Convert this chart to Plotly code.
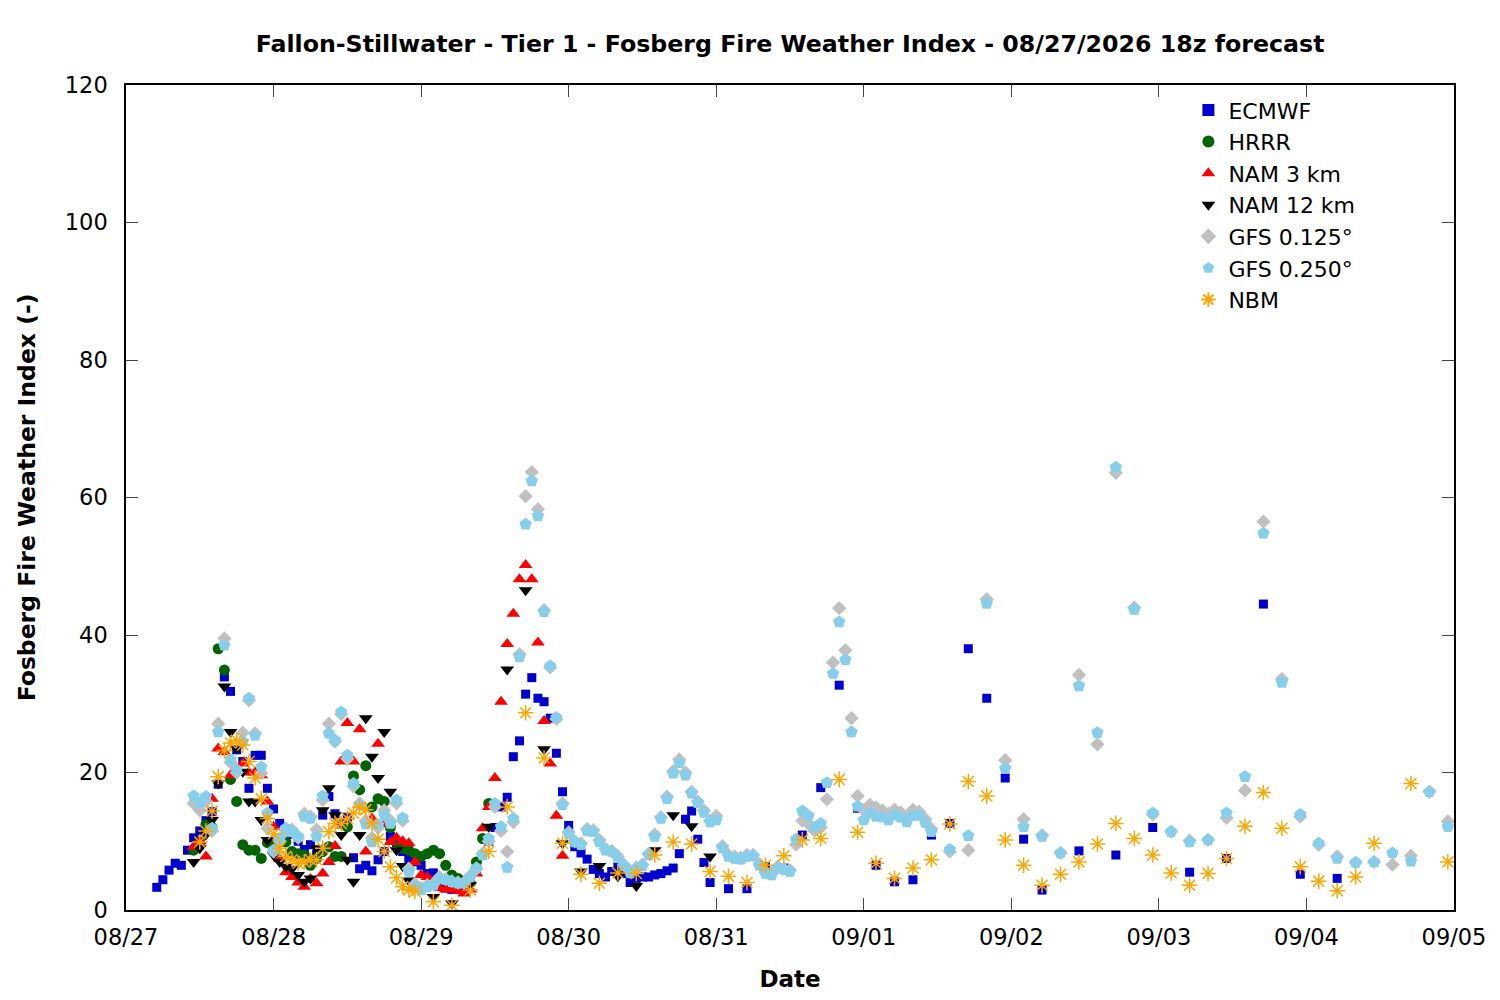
import pandas as pd
import plotly.graph_objects as go

# hours since 08/27 00:00 and Fosberg index values
ecmwf_hours = list(range(5, 96)) + [98, 101, 104, 107, 110, 113, 116, 119, 122, 125, 128, 131, 134, 137, 140, 143, 146, 149, 155, 161, 167, 173, 179, 185, 191, 197]
ecmwf_values = [3.3, 4.4, 5.8, 6.8, 6.5, 8.7, 10.5, 11.5, 13.0, 14.3, 18.3, 33.9, 31.8, 23.3, 21.6, 17.7, 22.5, 22.5, 17.7, 14.7,
                12.6, 11.8, 11.0, 10.0, 8.8, 9.5, 8.1, 13.8, 16.5, 14.0, 12.5, 13.5, 7.6, 6.0, 6.5, 5.7, 7.3, 8.5, 10.7, 9.8,
                8.5, 7.5, 7.0, 6.5, 5.3, 5.4, 3.5, 3.2, 3.0, 3.0, 3.5, 4.5, 5.8, 8.0, 10.0, 12.0, 15.0, 16.4, 22.3, 24.6,
                31.4, 33.8, 30.8, 30.3, 27.9, 22.8, 17.2, 12.3, 9.2, 8.3, 7.4, 5.9, 5.3, 4.8, 5.6, 6.3, 5.3, 4.0, 4.6, 4.8,
                4.8, 5.1, 5.3, 5.7, 6.1, 8.2, 13.2, 14.4, 10.3, 6.9, 4.0,
                3.1, 3.1, 6.3, 6.1, 10.9, 17.8, 32.7, 14.8, 6.5, 4.1, 4.4, 10.9, 12.6, 38.0, 30.8, 19.2, 10.3, 2.9,
                8.6, 8.0, 12.0, 5.5, 7.5, 44.5, 5.2, 4.6]

hrrr_hours = list(range(11, 60))
hrrr_values = [8.7, 9.9, 12.4, 12.0, 38.0, 34.9, 19.0, 15.8, 9.5, 8.7, 8.7, 7.5, 9.8, 9.5, 9.9, 9.9, 8.5, 8.2, 8.0, 6.5,
               7.5, 8.5, 9.2, 7.8, 7.8, 12.1, 19.5, 17.5, 21.0, 15.0, 16.2, 15.8, 12.0, 9.9, 9.0, 8.7, 8.2, 7.8, 8.2, 8.7,
               8.2, 6.5, 5.1, 4.6, 4.2, 3.9, 7.0, 10.4, 15.5]

nam3_hours = list(range(11, 72))
nam3_values = [9.2, 10.0, 7.8, 16.2, 23.5, 23.0, 19.6, 20.5, 21.3, 20.0, 20.0, 19.6, 15.8, 12.1, 7.4, 5.5, 4.8, 4.0, 3.4, 4.5,
               3.9, 5.3, 7.0, 9.3, 21.6, 27.2, 21.6, 26.3, 8.5, 13.3, 24.2, 12.4, 9.9, 10.5, 10.0, 9.7, 7.0, 5.1, 4.8, 4.0,
               3.2, 3.0, 3.0, 2.8, 2.4, 3.0, 5.3, 11.9, 15.0, 19.2, 30.3, 38.7, 43.1, 48.1, 50.2, 48.1, 38.9, 27.5, 21.3, 13.7,
               7.9]

nam12_hours = list(range(11, 48)) + [50, 53, 56, 59, 62, 65, 68, 71, 74, 77, 80, 83, 86, 89, 92, 95]
nam12_values = [7.0, 9.0, 11.0, 13.1, 18.4, 32.5, 25.9, 23.5, 20.1, 15.8, 15.8, 13.1, 10.2, 8.0, 7.0, 6.3, 6.0, 5.1, 4.1, 4.6,
                9.0, 14.5, 17.7, 13.8, 10.9, 7.3, 4.1, 10.9, 27.9, 22.3, 19.2, 25.9, 17.2, 8.7, 6.4, 4.3, 3.5,
                1.9, 1.0, 3.6, 12.1, 35.0, 46.5, 23.4, 9.7, 5.6, 6.4, 4.9, 3.5, 8.7, 13.8, 12.2, 7.8]

gfs_hours = list(range(11, 132)) + list(range(134, 216, 3))
gfs125_values = [15.5, 14.5, 15.8, 11.5, 27.1, 39.5, 21.5, 20.0, 25.8, 30.5, 25.7, 19.9, 11.9, 8.5, 10.0, 11.5, 11.7, 10.5, 14.0, 13.6,
                 11.7, 16.0, 27.1, 24.5, 28.5, 22.0, 18.0, 15.5, 13.0, 10.5, 12.0, 14.5, 13.0, 15.5, 13.0, 6.0, 3.8, 3.2, 3.6, 3.8,
                 4.8, 4.5, 4.2, 4.0, 4.0, 5.0, 6.0, 8.2, 10.0, 15.0, 11.5, 8.5, 12.8, 37.2, 60.2, 63.7, 58.3, 43.6, 35.3, 27.8,
                 15.5, 11.3, 10.0, 9.7, 11.8, 11.6, 10.2, 8.9, 8.6, 7.8, 6.6, 5.6, 6.2, 6.6, 8.2, 11.0, 13.5, 16.5, 20.2, 21.9,
                 20.0, 17.2, 15.8, 14.5, 13.0, 13.7, 9.3, 8.0, 7.8, 7.6, 8.0, 8.0, 6.7, 5.5, 5.3, 6.3, 6.0, 5.8, 9.5, 13.0,
                 12.5, 11.5, 12.0, 16.1, 36.0, 43.9, 37.8, 27.9, 16.6, 14.5, 15.3, 14.9, 14.5, 14.0, 14.6, 14.2, 13.5, 14.6, 14.3, 13.2,
                 11.8,
                 8.5, 8.7, 45.2, 21.8, 13.2, 10.9, 8.3, 34.2, 24.1, 63.6, 44.0, 13.9, 11.4, 10.1, 10.2, 13.4, 17.4, 56.5, 33.6, 13.6,
                 9.5, 7.8, 6.9, 7.0, 6.6, 7.9, 17.2, 12.9]
gfs250_values = [16.6, 15.6, 16.5, 11.9, 25.9, 38.5, 21.9, 20.4, 24.5, 30.8, 25.4, 20.8, 14.1, 8.7, 10.4, 11.9, 11.4, 10.7, 13.6, 13.3,
                 10.7, 16.6, 25.7, 24.7, 28.8, 22.5, 18.4, 15.3, 12.5, 9.9, 12.4, 13.8, 12.6, 16.0, 13.4, 5.6, 3.5, 2.9, 3.4, 3.6,
                 4.6, 4.4, 4.1, 3.9, 3.9, 4.8, 6.1, 8.0, 10.4, 15.5, 12.1, 6.2, 13.3, 36.8, 56.1, 62.4, 57.3, 43.4, 35.5, 28.0,
                 15.3, 11.1, 9.9, 9.5, 11.5, 11.4, 9.9, 8.7, 8.5, 7.6, 6.4, 5.4, 6.0, 6.4, 8.0, 10.7, 13.3, 16.2, 19.9, 21.4,
                 19.6, 17.0, 15.6, 14.2, 12.8, 13.1, 9.0, 7.8, 7.5, 7.4, 7.8, 7.9, 6.5, 5.3, 5.1, 6.1, 5.9, 5.6, 10.3, 14.4,
                 13.7, 12.0, 12.6, 18.5, 34.4, 41.9, 36.4, 25.9, 15.1, 13.1, 14.1, 13.6, 13.5, 13.1, 13.8, 13.5, 12.8, 13.7, 13.8, 12.7,
                 11.4,
                 8.8, 10.8, 44.6, 20.6, 12.1, 10.7, 8.3, 32.6, 25.8, 64.4, 43.7, 14.1, 11.4, 9.9, 10.2, 14.1, 19.4, 54.8, 33.1, 13.9,
                 9.7, 7.5, 6.9, 7.0, 8.3, 7.1, 17.2, 12.1]

nbm_hours = list(range(12, 48)) + [50, 53, 56, 59, 62, 65, 68, 71, 74, 77, 80, 83, 86, 89, 92, 95, 98, 101, 104, 107, 110, 113,
                                   116, 119, 122, 125, 128, 131, 134, 137, 140, 143, 146, 149, 152, 155, 158, 161, 164, 167,
                                   170, 173, 176, 179, 182, 185, 188, 191, 194, 197, 200, 203, 209, 215]
nbm_values = [9.9, 11.5, 14.4, 19.4, 23.2, 24.3, 24.7, 24.0, 21.6, 19.2, 16.2, 13.3, 11.1, 9.0, 7.8, 7.3, 6.8, 7.0, 7.3, 7.3,
              9.0, 11.4, 12.6, 12.6, 13.3, 14.1, 14.9, 14.6, 12.6, 10.3, 8.5, 6.3, 4.7, 3.4, 2.9, 2.7,
              1.2, 0.7, 2.9, 8.5, 15.0, 28.7, 22.1, 9.7, 5.2, 3.9, 5.4, 5.3, 8.0, 9.9, 9.6, 5.6, 4.9, 4.0, 6.5, 7.9, 10.2, 10.4,
              19.0, 11.3, 6.8, 4.6, 6.1, 7.3, 12.5, 18.7, 16.6, 10.2, 6.5, 3.6, 5.2, 7.0, 9.6, 12.6, 10.4, 8.0,
              5.4, 3.6, 5.3, 7.5, 12.2, 17.1, 11.9, 6.3, 4.2, 2.8, 4.8, 9.7, 18.4, 7.0]

base = pd.Timestamp("2026-08-27 00:00")


def to_time(hours):
    return [base + pd.Timedelta(hours=h) for h in hours]


series = [
    ("ECMWF", ecmwf_hours, ecmwf_values, dict(symbol="square", size=9, color="#0000CC")),
    ("HRRR", hrrr_hours, hrrr_values, dict(symbol="circle", size=11, color="#006400")),
    ("NAM 3 km", nam3_hours, nam3_values, dict(symbol="triangle-up", size=12, color="#FF0000")),
    ("NAM 12 km", nam12_hours, nam12_values, dict(symbol="triangle-down", size=12, color="#000000")),
    ("GFS 0.125°", gfs_hours, gfs125_values, dict(symbol="diamond", size=11, color="#C0C0C0")),
    ("GFS 0.250°", gfs_hours, gfs250_values, dict(symbol="pentagon", size=13, color="#87CEEB")),
    ("NBM", nbm_hours, nbm_values, dict(symbol="asterisk-open", size=13, color="#FFA500",
                                       line=dict(color="#FFA500", width=1.5))),
]

fig = go.Figure()
for name, hrs, vals, mk in series:
    mk = dict(mk)
    if "line" not in mk:
        mk["line"] = dict(width=0)
    fig.add_trace(go.Scatter(x=to_time(hrs), y=vals, mode="markers", name=name, marker=mk))

font = "DejaVu Sans, sans-serif"
fig.update_layout(
    width=1484, height=984,
    paper_bgcolor="white", plot_bgcolor="white",
    margin=dict(l=118, r=38, t=77, b=82),
    font=dict(family=font, size=22, color="black"),
    title=dict(text="<b>Fallon-Stillwater - Tier 1 - Fosberg Fire Weather Index - 08/27/2026 18z forecast</b>",
               x=0.527, xanchor="center", y=0.964, yanchor="middle", font=dict(size=23.7, family=font)),
    legend=dict(x=0.80, xanchor="left", y=0.995, yanchor="top", bgcolor="rgba(0,0,0,0)",
                font=dict(size=22, family=font), itemsizing="constant", tracegroupgap=0),
    showlegend=True,
)
fig.update_xaxes(
    type="date", range=[base, base + pd.Timedelta(days=9)], automargin=False,
    dtick=86400000, tickformat="%m/%d", ticks="inside", ticklen=12, tickwidth=1,
    showline=True, linecolor="black", linewidth=1.5, mirror="allticks", showgrid=False, zeroline=False,
    tickfont=dict(size=22.5, family=font), ticklabelstandoff=6,
    title=dict(text="<b>Date</b>", font=dict(size=23, family=font), standoff=24),
)
fig.update_yaxes(
    range=[0, 120], dtick=20, ticks="inside", ticklen=12, tickwidth=1, automargin=False,
    showline=True, linecolor="black", linewidth=1.5, mirror="allticks", showgrid=False, zeroline=False,
    tickfont=dict(size=22.5, family=font), ticklabelstandoff=12,
    title=dict(text="<b>Fosberg Fire Weather Index (-)</b>", font=dict(size=23.5, family=font), standoff=23),
)

fig.write_html("out.html")
